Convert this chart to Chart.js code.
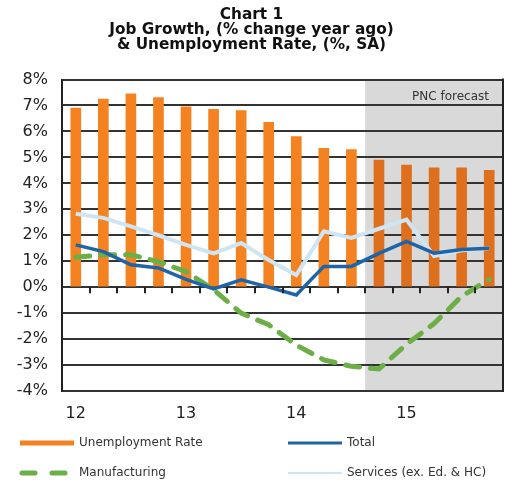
<!DOCTYPE html>
<html>
<head>
<meta charset="utf-8">
<title>Job Growth & Unemployment Rate</title>
<script src="https://cdn.jsdelivr.net/npm/chart.js@4"></script>
<style>
  html, body { margin: 0; padding: 0; background: #fff; }
  canvas { display: block; }
</style>
</head>
<body>
<canvas id="jobsChart" width="510" height="480"></canvas>
<script>
// quarterly series, 2012 Q1 through 2015 Q4
const quarters = ["12Q1", "12Q2", "12Q3", "12Q4", "13Q1", "13Q2", "13Q3", "13Q4",
                  "14Q1", "14Q2", "14Q3", "14Q4", "15Q1", "15Q2", "15Q3", "15Q4"];
const unemploymentRate = [6.9, 7.25, 7.45, 7.3, 6.95, 6.85, 6.8, 6.35, 5.8, 5.35, 5.3, 4.9, 4.7, 4.6, 4.6, 4.5];
const totalJobs = [1.63, 1.37, 0.86, 0.74, 0.3, -0.07, 0.28, 0.0, -0.3, 0.8, 0.8, 1.3, 1.76, 1.31, 1.45, 1.5];
const manufacturing = [1.15, 1.25, 1.25, 0.98, 0.6, -0.1, -1.0, -1.45, -2.23, -2.8, -3.05, -3.15, -2.2, -1.4, -0.35, 0.3];
const services = [2.83, 2.67, 2.34, 2.0, 1.63, 1.3, 1.7, 1.05, 0.47, 2.15, 1.9, 2.25, 2.6, 1.2, 1.42, 1.5];
const yTicks = [-4, -3, -2, -1, 0, 1, 2, 3, 4, 5, 6, 7, 8];
const forecastStart = 11; // first quarter inside the forecast band
const forecastLabel = "PNC forecast";

const ORANGE = "#F58220";
const ORANGE_DARK = "#DE6F1C";
const BLUE = "#1E64A7";
const LIGHT_BLUE = "#CFE5F4";
const GREEN = "#6BAF46";
const FONT = "DejaVu Sans";

// gray band behind the forecast quarters, drawn before grid and bars
const forecastBand = {
  id: "forecastBand",
  beforeDraw(chart) {
    const { ctx, chartArea, scales } = chart;
    const x = scales.x;
    const left = (x.getPixelForValue(forecastStart - 1) + x.getPixelForValue(forecastStart)) / 2;
    ctx.save();
    ctx.fillStyle = "#D9D9D9";
    ctx.fillRect(left, chartArea.top, chartArea.right - left, chartArea.bottom - chartArea.top);
    ctx.restore();
  },
  afterDraw(chart) {
    const { ctx, chartArea, scales } = chart;
    const x = scales.x, y = scales.y;
    const zero = y.getPixelForValue(0);
    ctx.save();
    // tick marks between quarters, hanging off the zero line
    ctx.strokeStyle = "#222";
    ctx.lineWidth = 2;
    ctx.beginPath();
    for (let i = 1; i < quarters.length; i++) {
      const bx = Math.round((x.getPixelForValue(i - 1) + x.getPixelForValue(i)) / 2);
      ctx.moveTo(bx, zero);
      ctx.lineTo(bx, zero + 6);
    }
    // right-hand frame edge
    ctx.moveTo(chartArea.right, chartArea.top - 1);
    ctx.lineTo(chartArea.right, chartArea.bottom + 1);
    ctx.stroke();

    ctx.fillStyle = "#333";
    ctx.font = "12px '" + FONT + "'";
    ctx.textAlign = "right";
    ctx.textBaseline = "middle";
    ctx.fillText(forecastLabel, chartArea.right - 14, chartArea.top + 17);
    ctx.restore();
  }
};

// two-column legend under the axis
const gridLegend = {
  id: "gridLegend",
  afterDraw(chart) {
    const { ctx, chartArea } = chart;
    const rowA = chartArea.bottom + 52, rowB = chartArea.bottom + 82;
    const items = [
      { label: "Unemployment Rate", x: 20, y: rowA, color: ORANGE, width: 5, dash: [] },
      { label: "Total", x: 288, y: rowA, color: BLUE, width: 3, dash: [] },
      { label: "Manufacturing", x: 20, y: rowB, color: GREEN, width: 5, dash: [13, 17] },
      { label: "Services (ex. Ed. & HC)", x: 288, y: rowB, color: LIGHT_BLUE, width: 2, dash: [] }
    ];
    ctx.save();
    ctx.font = "12px '" + FONT + "'";
    ctx.textBaseline = "middle";
    ctx.fillStyle = "#333";
    items.forEach(it => {
      ctx.strokeStyle = it.color;
      ctx.lineWidth = it.width;
      ctx.lineCap = it.dash.length ? "round" : "butt";
      ctx.setLineDash(it.dash);
      ctx.beginPath();
      ctx.moveTo(it.x + (it.dash.length ? 2 : 0), it.y);
      ctx.lineTo(it.x + (it.dash.length ? 48 : 54), it.y);
      ctx.stroke();
      ctx.fillText(it.label, it.x + 59, it.y);
    });
    ctx.restore();
  }
};

new Chart(document.getElementById("jobsChart"), {
  type: "bar",
  data: {
    labels: quarters,
    datasets: [
      {
        type: "line",
        label: "Total",
        data: totalJobs,
        borderColor: BLUE,
        borderWidth: 3.5,
        pointRadius: 0,
        tension: 0,
        order: 1
      },
      {
        type: "line",
        label: "Manufacturing",
        data: manufacturing,
        borderColor: GREEN,
        borderWidth: 5,
        borderDash: [14, 11],
        borderCapStyle: "round",
        pointRadius: 0,
        tension: 0,
        order: 2
      },
      {
        type: "line",
        label: "Services (ex. Ed. & HC)",
        data: services,
        borderColor: LIGHT_BLUE,
        borderWidth: 4,
        pointRadius: 0,
        tension: 0,
        order: 3
      },
      {
        type: "bar",
        label: "Unemployment Rate",
        data: unemploymentRate,
        backgroundColor: quarters.map((q, i) => i >= forecastStart ? ORANGE_DARK : ORANGE),
        barThickness: 10,
        order: 4
      }
    ]
  },
  options: {
    responsive: false,
    animation: false,
    layout: { padding: { left: 0, right: 7, top: 0, bottom: 51 } },
    plugins: {
      legend: { display: false },
      tooltip: { enabled: false },
      title: {
        display: true,
        text: ["Chart 1", "Job Growth, (% change year ago)", "& Unemployment Rate, (%, SA)"],
        color: "#111",
        font: { family: FONT, size: 15.3, weight: "bold", lineHeight: 0.97 },
        padding: { top: 8, bottom: 27 }
      }
    },
    scales: {
      x: {
        grid: { display: false },
        border: { display: false },
        afterFit(s) { s.height = 38; },
        ticks: {
          autoSkip: false,
          maxRotation: 0,
          padding: 5,
          color: "#222",
          font: { family: FONT, size: 16 },
          callback: (v, i) => i % 4 === 0 ? quarters[i].slice(0, 2) : ""
        }
      },
      y: {
        z: 1,
        min: yTicks[0],
        max: yTicks[yTicks.length - 1],
        afterFit(s) { s.width = 62; },
        afterBuildTicks(s) { s.ticks = yTicks.map(v => ({ value: v })); },
        grid: { color: "#333", lineWidth: 2, drawTicks: false },
        border: { color: "#222", width: 2 },
        ticks: {
          padding: 14,
          color: "#222",
          font: { family: FONT, size: 16 },
          callback: v => v + "%"
        }
      }
    }
  },
  plugins: [forecastBand, gridLegend]
});
</script>
</body>
</html>
